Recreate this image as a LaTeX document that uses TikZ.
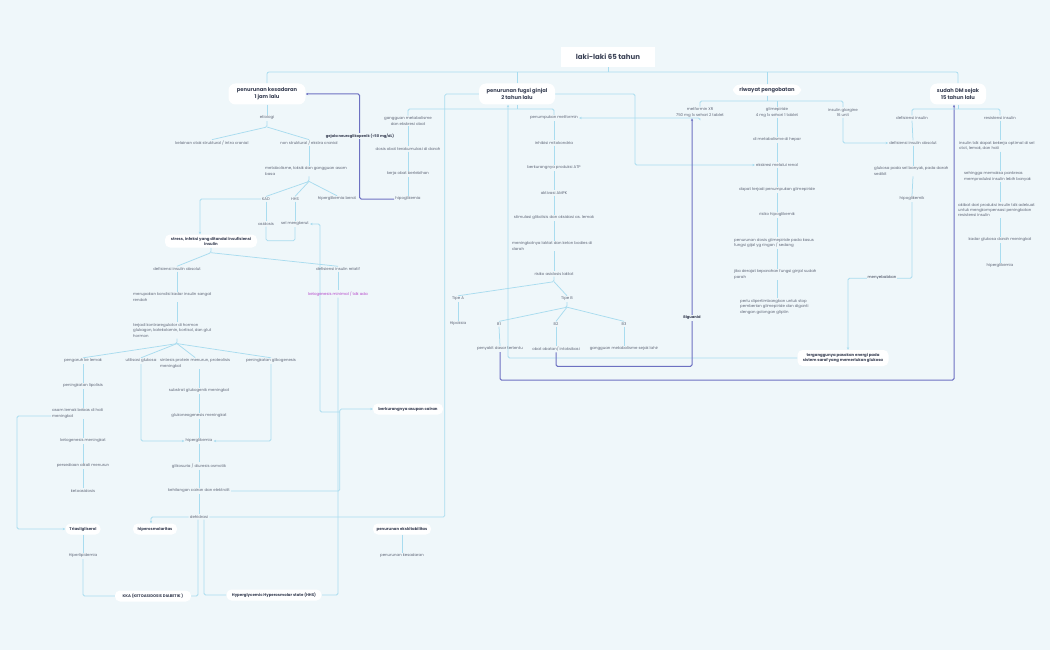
\documentclass[tikz,border=0pt]{standalone}
\usepackage{fontspec}
\setmainfont{Poppins}
\usetikzlibrary{arrows.meta,calc,backgrounds}
\definecolor{bgc}{HTML}{EFF7FA}
\definecolor{lb}{HTML}{A9DCEF}
\definecolor{db}{HTML}{6D71C2}
\definecolor{tc}{HTML}{5F6677}
\definecolor{hc}{HTML}{3B4256}
\definecolor{mg}{HTML}{B445C9}
\begin{document}
\begin{tikzpicture}[x=1pt,y=-1pt,
 tx/.style={font=\fontsize{3.9}{5.4}\selectfont, text=tc, inner sep=1pt, align=center},
 txl/.style={tx, align=left, anchor=west},
 rootbox/.style={fill=white, text=hc, font=\fontsize{7}{8}\selectfont\bfseries, inner sep=0pt},
 mainbox/.style={fill=white, rounded corners=7pt, text=hc, font=\fontsize{5.2}{7}\selectfont\bfseries, align=center, inner sep=0pt},
 subbox/.style={fill=white, rounded corners=5pt, text=hc, font=\fontsize{3.9}{5}\selectfont\bfseries, align=center, inner sep=0pt},
 lab/.style={fill=bgc, text=hc, font=\fontsize{3.7}{4.5}\selectfont\bfseries, inner sep=0.6pt},
 ln/.style={draw=lb, line width=0.75pt, rounded corners=1.5pt},
 dk/.style={draw=db, line width=1pt, rounded corners=1.5pt},
 arr/.style={-{Stealth[length=2.6pt,width=2.4pt]}}
]
\useasboundingbox (0,0) rectangle (1050,650);
% ---------- nodes
\node[rootbox, minimum width=94pt, minimum height=20pt] (root) at (608,57) {laki-laki 65 tahun};
\node[mainbox, minimum width=77pt, minimum height=21pt] (m1) at (267,94) {penurunan kesadaran\\1 jam lalu};
\node[mainbox, minimum width=76pt, minimum height=21pt] (m2) at (517,94) {penurunan fugsi ginjal\\2 tahun lalu};
\node[mainbox, minimum width=68pt, minimum height=11pt] (m3) at (767,90) {riwayat pengobatan};
\node[mainbox, minimum width=56pt, minimum height=21pt] (m4) at (958,94) {sudah DM sejak\\15 tahun lalu};
% left
\node[tx] (et) at (267,118) {etiologi};
\node[tx] (ks) at (212,143) {kelainan otak struktural / intra cranial};
\node[tx] (ns) at (309,143) {non struktural / ekstra cranial};
\node[txl] (mt) at (264,171) {metabolisme, toksik dan gangguan asam\\basa};
\node[tx] (kad) at (266,199) {KAD};
\node[tx] (hhs) at (295,199) {HHS};
\node[tx] (hb) at (337,199) {hiperglikemia berat};
\node[tx] (as) at (266,224) {asidosis};
\node[tx] (sm) at (295,224) {sel mengkerut};
\node[subbox, minimum width=92pt, minimum height=13pt] (st) at (211,241) {stress, infeksi yang ditandai insufisiensi\\insulin};
\node[tx] (dia) at (177,269) {defisiensi insulin absolut};
\node[tx] (dir) at (338,269) {defisiensi insulin relatif};
\node[tx, text=mg] (kmt) at (338,294) {ketogenesis minimal / tdk ada};
\node[txl] (mk) at (132,297) {merupakan kondisi kadar insulin sangat\\rendah};
\node[txl] (tk) at (132,330.5) {terjadi kontraregulator di hormon\\glukagon, katekolamin, kortisol, dan glut\\hormon};
\node[tx] (pk) at (83,361) {pengaruh ke lemak};
\node[tx] (ug) at (141,361) {utilisasi glukosa};
\node[txl] (sp) at (159,363.5) {sintesis protein menurun, proteolisis\\meningkat};
\node[tx] (pg) at (271,361) {peningkatan glikogenesis};
\node[tx] (pl) at (83,386) {peningkatan lipolisis};
\node[txl] (al) at (51,413.5) {asam lemak bebas di hati\\meningkat};
\node[tx] (km) at (83,441) {ketogenesis meningkat};
\node[tx] (pa) at (83,466) {persediaan alkali menurun};
\node[tx] (ka) at (83,491) {ketoasidosis};
\node[subbox, minimum width=35pt, minimum height=11pt] (tg) at (83,529) {Triasilgliserol};
\node[tx] (hl) at (83,556) {Hiperlipidemia};
\node[subbox, minimum width=76pt, minimum height=11pt] (kka) at (153,596) {KKA (KETOASIDOSIS DIABETIK )};
\node[tx] (sg) at (199,391) {substrat glukogenik meningkat};
\node[tx] (gn) at (199,416) {glukoneogenesis meningkat};
\node[tx] (hg) at (199,441) {hiperglikemia};
\node[tx] (gd) at (199,466) {glikosuria / diuresis osmotik};
\node[tx] (kc) at (199,491) {kehilangan cairan dan elektrolit};
\node[tx] (dh) at (199,517) {dehidrasi};
\node[subbox, minimum width=44pt, minimum height=11pt] (ho) at (155,529) {hiperosmolaritas};
\node[subbox, minimum width=95pt, minimum height=11pt] (hhn) at (274,595) {Hyperglycemic Hyperosmolar state (HHS)};
\node[subbox, minimum width=70pt, minimum height=11pt] (ba) at (408,409) {berkurangnya asupan cairan};
\node[subbox, minimum width=58pt, minimum height=11pt] (pe) at (402,529) {penurunan ekskitabilitas};
\node[tx] (pk2) at (402,556) {penurunan kesadaran};
% middle
\node[tx] (gm) at (408,121) {gangguan metabolisme\\dan ekskresi obat};
\node[tx] (do) at (408,149) {dosis obat terakumulasi di darah};
\node[tx] (kb) at (408,174) {kerja obat berlebihan};
\node[tx] (hpg) at (408,199) {hipoglikemia};
\node[tx] (pm) at (554,118) {penumpukan metformin};
\node[tx] (im) at (554,143) {inhibisi mitokondria};
\node[tx] (bp) at (554,168) {berkurangnya produksi ATP};
\node[tx] (aa) at (554,193) {aktivasi AMPK};
\node[tx] (sg2) at (554,218) {stimulasi glikolisis dan oksidasi as. lemak};
\node[txl] (ml) at (511,246) {meningkatnya laktat dan keton bodies di\\darah};
\node[tx] (ra) at (554,274) {risiko asidosis laktat};
\node[tx] (ta) at (458,299) {Tipe A};
\node[tx] (tb) at (567,299) {Tipe B};
\node[tx] (hp) at (458,324) {Hipoksia};
\node[tx] (b1) at (499,324) {B1};
\node[tx] (b2) at (556,324) {B2};
\node[tx] (b3) at (624,324) {B3};
\node[tx] (pd) at (500,349) {penyakit dasar tertentu};
\node[tx] (oo) at (556,349) {obat obatan/ intoksikasi};
\node[tx] (gml) at (624,349) {gangguan metabolisme sejak lahir};
% right
\node[tx] (mx) at (700,112.5) {metformin XR\\750 mg 1x sehari 2 tablet};
\node[tx] (gl) at (777,112.5) {glimepiride\\4 mg 1x sehari 1 tablet};
\node[tx] (ig) at (843,112.5) {insulin glargine\\16 unit};
\node[tx] (dmh) at (777,140) {di metabolisme di hepar};
\node[tx] (er) at (777,165) {ekskresi melalui renal};
\node[tx] (dp) at (777,190) {dapat terjadi penumpukan glimepiride};
\node[tx] (rh) at (777,215) {risiko hipoglikemik};
\node[txl] (pdg) at (733,243) {penurunan dosis glimepiride pada kasus\\fungsi gijal yg ringan / sedang};
\node[txl] (jd) at (733,274.5) {jika derajat keparahan fungsi ginjal sudah\\parah};
\node[txl] (pp) at (739,307) {perlu dipertimbangkan untuk stop\\pemberian glimepiride dan diganti\\dengan golongan gliptin};
\node[tx] (df) at (912,118) {defisiensi insulin};
\node[tx] (ri) at (1000,118) {resistensi insulin};
\node[tx] (dfa) at (913,143) {defisiensi insulin absolut};
\node[txl] (gp) at (873,171) {glukosa pada sel banyak, pada darah\\sedikit};
\node[tx] (hk) at (912,199) {hipoglikemik};
\node[txl] (io) at (958,146) {insulin tdk dapat bekerja optimal di sel\\otot, lemak, dan hati};
\node[txl] (smp) at (963,176.5) {sehingga memaksa pankreas\\memproduksi insulin lebih banyak};
\node[txl] (ak) at (957,210) {akibat dari produksi insulin tdk adekuat\\untuk mengkompensasi peningkatan\\resistensi insulin};
\node[tx] (kg) at (1000,240) {kadar glukosa darah meningkat};
\node[tx] (hg2) at (1000,266) {hiperglikemia};
\node[subbox, minimum width=91pt, minimum height=16pt] (tgs) at (843,358) {terganggunya pasokan energi pada\\sistem saraf yang memerlukan glukosa};
% labels
\node[lab] (gnl) at (360,136) {gejala neuroglikopenik (<50 mg/dL)};
\node[lab] (bgl) at (692,318) {Biguanid};
\node[tx, fill=bgc, text=hc] (mb) at (882,278) {menyebabkan};
% ---------- edges
\begin{scope}[on background layer]
\fill[bgc] (0,0) rectangle (1050,650);
\draw[ln] (root.south) -- (608,72);
\draw[ln, rounded corners=2pt] (m1.north) -- (267,72) -- (958,72) -- (m4.north);
\draw[ln] (m2.north) -- (517,72);
\draw[ln] (m3.north) -- (767,72);
% m1
\draw[ln] (m1.south) -- (et.north);
\draw[ln] (et.south) -- (267,127) coordinate (be) -- (ks.north);
\draw[ln] (be) -- (ns.north);
\draw[ln] (ns.south) -- (ns.south |- mt.north);
\draw[ln] (ns.south |- mt.south) -- ++(0,5) coordinate (bm) -- (kad.north);
\draw[ln] (bm) -- (hhs.north);
\draw[ln] (bm) -- (hb.north);
\draw[ln] (kad.south) -- (as.north);
\draw[ln] (hhs.south) -- (sm.north);
\draw[ln] (as.south) -- ++(0,14) -| (sm.south);
\draw[ln, arr] (kad.west) -| ([xshift=-11pt]st.north);
\draw[ln] (st.south) -- ++(0,5) coordinate (bs) -- (dia.north);
\draw[ln] (bs) -- (dir.north);
\draw[ln] (dir.south) -- (kmt.north);
\draw[ln] (dia.south) -- (dia.south |- mk.north);
\draw[ln] (dia.south |- mk.south) -- (dia.south |- tk.north);
\draw[ln] (dia.south |- tk.south) -- ++(0,5) coordinate (bk) -- (pk.north);
\draw[ln] (bk) -- (ug.north);
\draw[ln] (bk) -- (sp.north);
\draw[ln] (bk) -- (pg.north);
\draw[ln] (pk.south) -- (pl.north);
\draw[ln] (pl.south) -- (pl.south |- al.north);
\draw[ln] (pl.south |- al.south) -- (km.north);
\draw[ln] (km.south) -- (pa.north);
\draw[ln] (pa.south) -- (ka.north);
\draw[ln, arr] ([yshift=-2.5pt]al.west) -- (17,416) |- (tg.west);
\draw[ln] (tg.south) -- (hl.north);
\draw[ln] (hl.south) |- (kka.west);
\draw[ln, arr] (ug.south) |- (hg.west);
\draw[ln] (sg.north |- sp.south) -- (sg.north);
\draw[ln] (sg.south) -- (gn.north);
\draw[ln] (gn.south) -- (hg.north);
\draw[ln, arr] (pg.south) |- (hg.east);
\draw[ln] (hg.south) -- (gd.north);
\draw[ln] (gd.south) -- (kc.north);
\draw[ln] (kc.south) -- (dh.north);
\draw[ln, arr] (dh.west) -| ([xshift=-4pt]ho.north);
\draw[ln] ([xshift=-1pt]dh.south) |- (kka.east);
\draw[ln] ([xshift=5pt]dh.south) |- (hhn.west);
\draw[ln] (dh.east) -| ([xshift=-34pt]m2.west) -- (m2.west);
\draw[ln] (kmt.south) |- (hhn.east);
\draw[ln, arr] (kc.east) -| ([xshift=-33pt]ba.west) -- (ba.west);
\draw[ln, arr] ([xshift=-33pt,yshift=-3pt]ba.west) -- (320,412) -- (320,224) -- (sm.east);
\draw[ln] (pe.south) -- (pk2.north);
% m2
\draw[ln] (m2.south) -- (517,109);
\draw[ln] (gm.north) -- (408,109) -- (554,109) -- (pm.north);
\draw[ln] (gm.south) -- (do.north);
\draw[ln] (do.south) -- (kb.north);
\draw[ln] (kb.south) -- (hpg.north);
\draw[ln] (pm.south) -- (im.north);
\draw[ln] (im.south) -- (bp.north);
\draw[ln] (bp.south) -- (aa.north);
\draw[ln] (aa.south) -- (sg2.north);
\draw[ln] (sg2.south) -- (sg2.south |- ml.north);
\draw[ln] (sg2.south |- ml.south) -- (ra.north);
\draw[ln] (ra.south) -- ++(0,5) coordinate (br) -- (ta.north);
\draw[ln] (br) -- (tb.north);
\draw[ln] (ta.south) -- (hp.north);
\draw[ln] (tb.south) -- ++(0,5) coordinate (bb) -- (b1.north);
\draw[ln] (bb) -- (b2.north);
\draw[ln] (bb) -- (b3.north);
\draw[ln] (b1.south) -- (pd.north);
\draw[ln] (b2.south) -- (oo.north);
\draw[ln] (b3.south) -- (gml.north);
\draw[ln, arr] (m2.east) -- (635,94) |- (er.west);
\draw[ln, arr] (tgs.west) -| ([xshift=-9pt]m2.south);
\draw[ln, arr] (mx.south) |- (pm.east);
% dark
\draw[dk, arr] (hpg.west) -| ([xshift=54pt]m1.east) -- (m1.east);
\draw[dk, arr] (oo.south) -- ++(0,14) -| ([xshift=-8pt]mx.south);
\draw[dk, arr] (pd.south) -- ++(0,28) -| ([xshift=-4pt]m4.south);
% m3
\draw[ln] (m3.south) -- (767,101);
\draw[ln] (mx.north) -- (700,101) -- (843,101) -- (ig.north);
\draw[ln] (gl.north) -- (777,101);
\draw[ln] (gl.south) -- (dmh.north);
\draw[ln] (dmh.south) -- (er.north);
\draw[ln] (er.south) -- (dp.north);
\draw[ln] (dp.south) -- (rh.north);
\draw[ln] (rh.south) -- (rh.south |- pdg.north);
\draw[ln] (rh.south |- pdg.south) -- (rh.south |- jd.north);
\draw[ln] (rh.south |- jd.south) -- (rh.south |- pp.north);
\draw[ln, arr] (ig.south) |- (dfa.west);
% m4
\draw[ln] (m4.south) -- (958,109);
\draw[ln] (df.north) -- (912,109) -- (1000,109) -- (ri.north);
\draw[ln] (df.south) -- (dfa.north);
\draw[ln] (dfa.south) -- (dfa.south |- gp.north);
\draw[ln] (dfa.south |- gp.south) -- (hk.north);
\draw[ln, arr] (hk.south) -- ++(0,76) -| ([xshift=5pt]tgs.north);
\draw[ln] (ri.south) -- (ri.south |- io.north);
\draw[ln] (ri.south |- io.south) -- (ri.south |- smp.north);
\draw[ln] (ri.south |- smp.south) -- (ri.south |- ak.north);
\draw[ln] (ri.south |- ak.south) -- (kg.north);
\draw[ln] (kg.south) -- (hg2.north);
\end{scope}
\end{tikzpicture}
\end{document}
